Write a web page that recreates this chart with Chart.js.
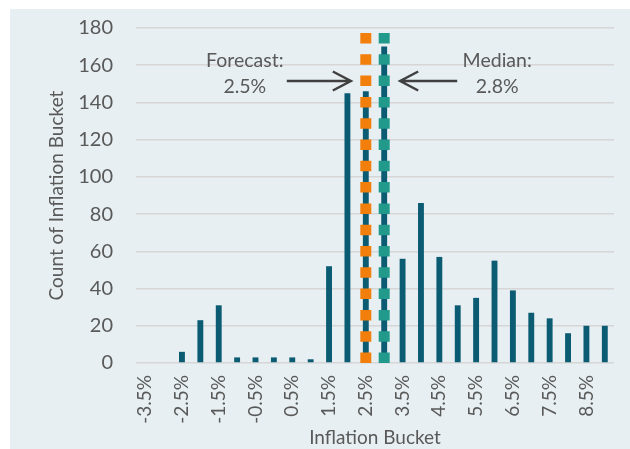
<!DOCTYPE html>
<html>
<head>
<meta charset="utf-8">
<script src="https://cdn.jsdelivr.net/npm/chart.js@4.4.1/dist/chart.umd.min.js"></script>
<style>
  html, body { margin: 0; padding: 0; background: #ffffff; }
  #wrap { width: 630px; height: 449px; position: relative; }
</style>
</head>
<body>
<div id="wrap"><canvas id="c" width="630" height="449"></canvas></div>
<script>
// Inflation buckets (percent), every 0.5 point
const buckets = [-3.5, -3.0, -2.5, -2.0, -1.5, -1.0, -0.5, 0.0, 0.5, 1.0, 1.5, 2.0, 2.5,
                 3.0, 3.5, 4.0, 4.5, 5.0, 5.5, 6.0, 6.5, 7.0, 7.5, 8.0, 8.5, 9.0];
// Number of outcomes falling in each bucket
const counts = [0, 0, 6, 23, 31, 3, 3, 3, 3, 2, 52, 145, 146,
                170, 56, 86, 57, 31, 35, 55, 39, 27, 24, 16, 20, 20];
// Reference values marked on the chart
const forecastValue = 2.5;
const medianValue = 2.8;
// Value-axis ticks
const yTicks = [0, 20, 40, 60, 80, 100, 120, 140, 160, 180];

const fmt = v => v.toFixed(1) + '%';
const labels = buckets.map(fmt);
const bucketOf = v => fmt(Math.round(v * 2) / 2);
const yMax = yTicks[yTicks.length - 1];

const FONT = 'Lato';
const TEXT = '#595959';

const panelBg = {
  id: 'panelBg',
  beforeDraw(chart) {
    const ctx = chart.ctx;
    ctx.save();
    ctx.fillStyle = '#ffffff';
    ctx.fillRect(0, 0, chart.width, chart.height);
    ctx.fillStyle = '#e7eff2';
    ctx.fillRect(10, 9, chart.width - 10, chart.height - 9);
    ctx.restore();
  }
};

function arrow(ctx, x0, y, x1) {
  const dir = Math.sign(x1 - x0);
  ctx.beginPath();
  ctx.moveTo(x0, y);
  ctx.lineTo(x1, y);
  ctx.moveTo(x1 - dir * 18, y - 9.5);
  ctx.lineTo(x1, y);
  ctx.lineTo(x1 - dir * 18, y + 9.5);
  ctx.stroke();
}

const callouts = {
  id: 'callouts',
  afterDatasetsDraw(chart) {
    const ctx = chart.ctx;
    const xs = chart.scales.x;
    const xF = xs.getPixelForValue(labels.indexOf(bucketOf(forecastValue)));
    const xM = xs.getPixelForValue(labels.indexOf(bucketOf(medianValue)));
    const yA = 81;
    ctx.save();
    ctx.strokeStyle = '#404040';
    ctx.lineWidth = 2.5;
    ctx.lineCap = 'butt';
    ctx.lineJoin = 'miter';
    arrow(ctx, xF - 79, yA, xF - 15);
    arrow(ctx, xM + 73, yA, xM + 16);
    ctx.fillStyle = TEXT;
    ctx.font = '19.5px ' + FONT;
    ctx.textAlign = 'center';
    ctx.textBaseline = 'alphabetic';
    ctx.fillText('Forecast:', xF - 121, 67);
    ctx.fillText(fmt(forecastValue), xF - 121, 93);
    ctx.fillText('Median:', xM + 113, 67);
    ctx.fillText(fmt(medianValue), xM + 113, 93);
    ctx.restore();
  }
};

function markerLine(value, color) {
  const b = bucketOf(value);
  return {
    type: 'line',
    data: [{ x: b, y: 0 }, { x: b, y: yMax }],
    borderColor: color,
    borderWidth: 11,
    borderDash: [10.5, 10.8],
    borderCapStyle: 'butt',
    pointRadius: 0,
    fill: false,
    tension: 0
  };
}

new Chart(document.getElementById('c'), {
  type: 'bar',
  data: {
    labels: labels,
    datasets: [
      Object.assign(markerLine(medianValue, '#21998b'), { order: 1 }),
      Object.assign(markerLine(forecastValue, '#f27e0b'), { order: 2 }),
      {
        type: 'bar',
        data: counts,
        backgroundColor: '#0b5b73',
        barPercentage: 0.32,
        categoryPercentage: 1,
        order: 3
      }
    ]
  },
  options: {
    responsive: false,
    animation: false,
    devicePixelRatio: 1,
    layout: { padding: { left: 0, right: 16, top: 28, bottom: 0 } },
    plugins: { legend: { display: false }, tooltip: { enabled: false } },
    scales: {
      x: {
        grid: { display: false, drawTicks: false },
        border: { display: false },
        ticks: {
          autoSkip: false,
          minRotation: 90,
          maxRotation: 90,
          padding: 12,
          color: TEXT,
          font: { family: FONT, size: 19 },
          callback: (v, i) => (i % 2 === 0 ? labels[i] : '')
        },
        title: {
          display: true,
          text: 'Inflation Bucket',
          color: TEXT,
          font: { family: FONT, size: 19 },
          padding: { top: 0, bottom: 0 }
        },
        afterFit(s) { s.height = 86; s.paddingLeft = 0; s.paddingRight = 0; }
      },
      y: {
        min: 0,
        max: yMax,
        afterBuildTicks(s) { s.ticks = yTicks.map(v => ({ value: v })); },
        grid: { color: '#d6d6d6', lineWidth: 1.5, drawTicks: false },
        border: { display: false },
        ticks: {
          padding: 23,
          color: TEXT,
          font: { family: FONT, size: 20 }
        },
        title: {
          display: true,
          text: 'Count of Inflation Bucket',
          color: TEXT,
          font: { family: FONT, size: 19 },
          padding: { top: 45, bottom: 0 }
        },
        afterFit(s) { s.width = 136; s.paddingTop = 0; s.paddingBottom = 0; }
      }
    }
  },
  plugins: [panelBg, callouts]
});
</script>
</body>
</html>
